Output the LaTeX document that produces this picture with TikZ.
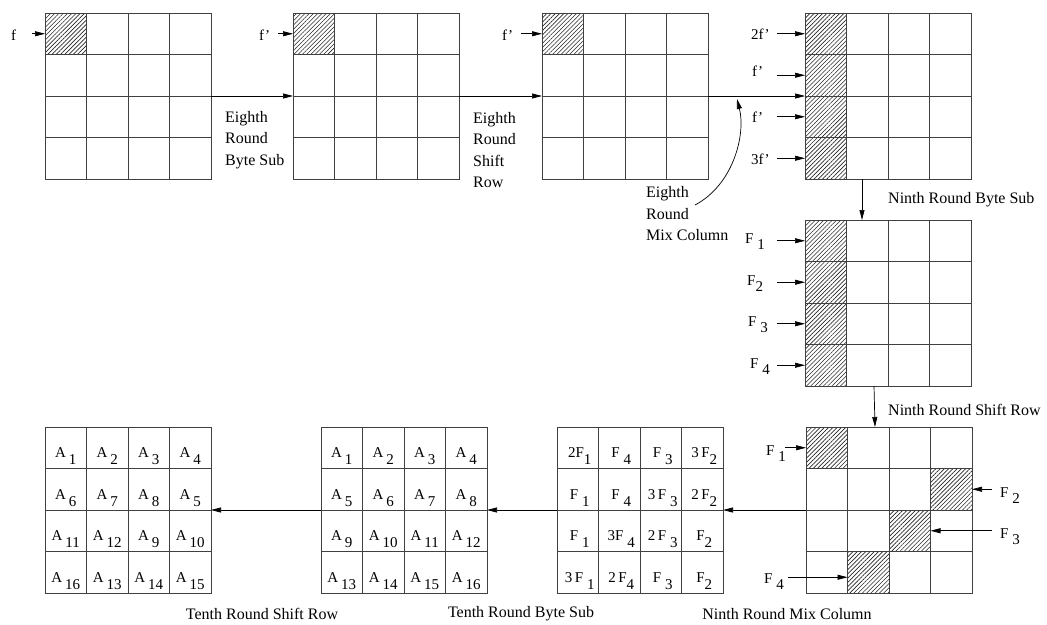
\documentclass[tikz,border=0pt]{standalone}
\usepackage{fontspec}
\setmainfont{Liberation Serif}
\usepackage{tikz}
\usetikzlibrary{positioning,arrows.meta,patterns.meta}

\newcommand\lo[1]{\raisebox{-0.45em}{#1}}
% 4x4 state: name, centre x, centre y
\newcommand\statebox[3]{%
  \node[gridbox] (#1) at (#2,#3) {};
  \foreach \r in {1,...,4}{
    \foreach \c in {1,...,4}{
      \node[cell] (#1-\r-\c) at ({#2+(\c-2.5)*41.5},{#3+(\r-2.5)*41.5}) {};
    }
  }
}

\begin{document}
\begin{tikzpicture}[x=1pt, y=-1pt,
  font=\fontsize{16}{21.5}\selectfont,
  gridbox/.style={minimum size=166pt, inner sep=0pt, outer sep=0pt},
  cell/.style={draw=black!75, line width=1pt, minimum size=41.5pt, inner sep=0pt, outer sep=0pt},
  hatch/.style={draw=black!75, line width=1pt, pattern={Lines[angle=45,distance=3pt,line width=0.6pt]}, pattern color=black!85},
  arr/.style={-{Triangle[length=10pt,width=5pt]}, line width=0.7pt},
  lbl/.style={inner sep=0pt, align=left},
  flbl/.style={inner sep=0pt, font=\fontsize{15}{18}\selectfont},
  celltext/.style={inner sep=0pt, anchor=base, font=\fontsize{15}{18}\selectfont}]
  \useasboundingbox (0,0) rectangle (1047,624);

  % States
  \statebox{g1}{128}{96}
  \statebox{g2}{376}{96}
  \statebox{g3}{625}{96}
  \statebox{g4}{888}{96}
  \statebox{g5}{888}{303}
  \statebox{g6}{889}{510}
  \statebox{g7}{640}{510}
  \statebox{g8}{404}{510}
  \statebox{g9}{128}{510}

  % Faulty bytes
  \foreach \g in {g1,g2,g3}
    \draw[hatch] (\g-1-1.south west) rectangle (\g-1-1.north east);
  \foreach \g in {g4,g5}
    \foreach \r in {1,...,4}
      \draw[hatch] (\g-\r-1.south west) rectangle (\g-\r-1.north east);
  \foreach \cc in {1-1,2-4,3-3,4-2}
    \draw[hatch] (g6-\cc.south west) rectangle (g6-\cc.north east);

  % Eighth round
  \node[flbl, anchor=west] (in1) at (11,35) {f};
  \draw[arr] ([xshift=-13pt]g1-1-1.west) -- (g1-1-1.west);
  \node[flbl, anchor=west] (in2) at (259,35) {f'};
  \draw[arr] ([xshift=-15pt]g2-1-1.west) -- (g2-1-1.west);
  \node[flbl, anchor=west] (in3) at (502,35) {f'};
  \draw[arr] ([xshift=-21pt]g3-1-1.west) -- (g3-1-1.west);
  \draw[arr] (g1.east) -- (g2.west);
  \draw[arr] (g2.east) -- (g3.west);
  \draw[arr] (g3.east) -- (g4.west);
  \node[lbl, anchor=west] (bs8) at (225,140) {Eighth\\Round\\Byte Sub};
  \node[lbl, anchor=west] (sr8) at (473,150) {Eighth\\Round\\Shift\\Row};
  \node[lbl, anchor=west] (mc8) at (646,214) {Eighth\\Round\\Mix Column};
  \coordinate (mixtail) at (695,205);
  \coordinate (mixhead) at (737,99);
  \draw[arr] (mixtail) .. controls (733,185) and (746,135) .. (mixhead);

  % Mix column output
  \node[flbl, anchor=west] (in4a) at (751,34) {2f'};
  \node[flbl, anchor=west] (in4b) at (752,71) {f'};
  \node[flbl, anchor=west] (in4c) at (752,117) {f'};
  \node[flbl, anchor=west] (in4d) at (751,159) {3f'};
  \foreach \r in {1,...,4}
    \draw[arr] ([xshift=-28pt]g4-\r-1.west) -- (g4-\r-1.west);

  % Ninth round byte sub
  \draw[arr] ([xshift=-26pt]g4.south) -- ([xshift=-26pt]g5.north);
  \node[anchor=west, inner sep=0pt] (bs9) at (888,200) {Ninth Round Byte Sub};
  \node[flbl, anchor=base west] (in5a) at (745,243) {F\ \lo{1}};
  \node[flbl, anchor=base west] (in5b) at (747,285) {F\lo{2}};
  \node[flbl, anchor=base west] (in5c) at (748,326) {F\ \lo{3}};
  \node[flbl, anchor=base west] (in5d) at (750,368) {F\ \lo{4}};
  \foreach \r in {1,...,4}
    \draw[arr] ([xshift=-28pt]g5-\r-1.west) -- (g5-\r-1.west);

  % Ninth round shift row
  \draw[arr] ([xshift=-14pt]g5.south) -- ([xshift=-14pt]g6.north);
  \node[anchor=west, inner sep=0pt] (sr9) at (888,410) {Ninth Round Shift Row};
  \node[flbl, anchor=base west] (in6a) at (766,455) {F\ \lo{1}};
  \draw[arr] ([xshift=-21pt]g6-1-1.west) -- (g6-1-1.west);
  \node[flbl, anchor=base west] (in6b) at (1000,497) {F\ \lo{2}};
  \draw[arr] ([xshift=20pt]g6-2-4.east) -- (g6-2-4.east);
  \node[flbl, anchor=base west] (in6c) at (1000,538) {F\ \lo{3}};
  \draw[arr] ([xshift=61pt]g6-3-3.east) -- (g6-3-3.east);
  \node[flbl, anchor=base west] (in6d) at (764,583) {F\ \lo{4}};
  \draw[arr] ([xshift=-60pt,yshift=-5pt]g6-4-2.west) -- ([yshift=-5pt]g6-4-2.west);

  % Ninth round mix column
  \draw[arr] (g6.west) -- (g7.east);
  \node[inner sep=0pt] (mc9) at (787,614) {Ninth Round Mix Column};
  \foreach \t [count=\c] in {2F\lo{1}, F\ \lo{4}, F\ \lo{3}, 3\,F\lo{2}}
    \node[celltext] (t7-1-\c) at ([xshift=2pt,yshift=-10pt]g7-1-\c.center) {\t};
  \foreach \t [count=\c] in {F\ \lo{1}, F\ \lo{4}, 3\,F\ \lo{3}, 2\,F\lo{2}}
    \node[celltext] (t7-2-\c) at ([xshift=2pt,yshift=-10pt]g7-2-\c.center) {\t};
  \foreach \t [count=\c] in {F\ \lo{1}, 3F\ \lo{4}, 2\,F\ \lo{3}, F\lo{2}}
    \node[celltext] (t7-3-\c) at ([xshift=2pt,yshift=-10pt]g7-3-\c.center) {\t};
  \foreach \t [count=\c] in {3\,F\ \lo{1}, 2\,F\lo{4}, F\ \lo{3}, F\lo{2}}
    \node[celltext] (t7-4-\c) at ([xshift=2pt,yshift=-10pt]g7-4-\c.center) {\t};

  % Tenth round byte sub
  \draw[arr] (g7.west) -- (g8.east);
  \node[inner sep=0pt] (bs10) at (521,614) {Tenth Round Byte Sub};
  \foreach \r in {1,...,4}
    \foreach \c in {1,...,4}{
      \pgfmathtruncatemacro\n{4*(\r-1)+\c}
      \node[celltext] (t8-\r-\c) at ([yshift=-10pt]g8-\r-\c.center) {A\hspace{0.2em}\lo{\n}};
    }

  % Tenth round shift row
  \draw[arr] (g8.west) -- (g9.east);
  \node[inner sep=0pt] (sr10) at (262,614) {Tenth Round Shift Row};
  \foreach \n [count=\i from 0] in {1,2,3,4,6,7,8,5,11,12,9,10,16,13,14,15}{
    \pgfmathtruncatemacro\r{div(\i,4)+1}
    \pgfmathtruncatemacro\c{mod(\i,4)+1}
    \node[celltext] (t9-\r-\c) at ([yshift=-10pt]g9-\r-\c.center) {A\hspace{0.2em}\lo{\n}};
  }
\end{tikzpicture}
\end{document}
